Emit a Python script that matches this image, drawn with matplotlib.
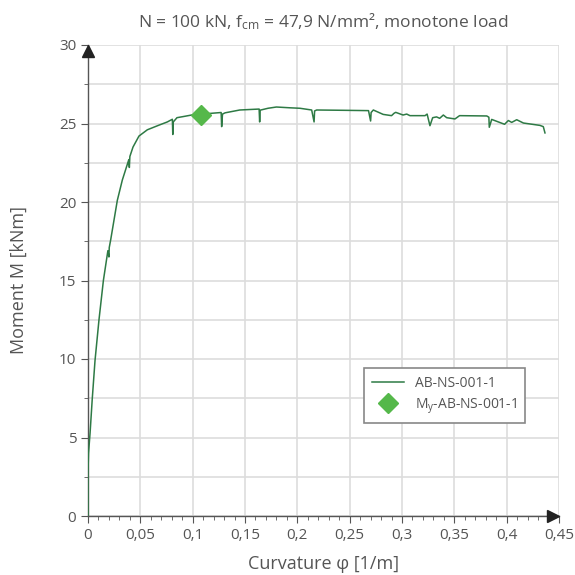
import matplotlib
matplotlib.use("Agg")
import matplotlib.pyplot as plt
import matplotlib.transforms as mtransforms
from matplotlib.ticker import MultipleLocator, FuncFormatter

# ---- data ----
curvature = [0, 0, 0.0005, 0.002, 0.004, 0.0067, 0.0105, 0.0147, 0.019, 0.0200, 0.0203,
             0.0217, 0.028, 0.0328, 0.039, 0.0395, 0.040, 0.043, 0.0487, 0.0567, 0.068,
             0.0758, 0.0806, 0.0810, 0.0815, 0.085, 0.0917, 0.099, 0.108, 0.118, 0.1272,
             0.1277, 0.1285, 0.131, 0.145, 0.1635, 0.164, 0.1645, 0.172, 0.180, 0.193,
             0.2025, 0.2137, 0.2160, 0.2165, 0.2185, 0.245, 0.268, 0.2700, 0.2705, 0.2726,
             0.282, 0.290, 0.2924, 0.294, 0.301, 0.3045, 0.3076, 0.322, 0.324, 0.3267,
             0.3293, 0.333, 0.336, 0.3395, 0.3427, 0.3506, 0.355, 0.381, 0.3830, 0.3834,
             0.3857, 0.398, 0.4016, 0.4048, 0.4096, 0.416, 0.4318, 0.435, 0.4366]
moment = [0, 2.8, 4.0, 5.3, 7.4, 9.9, 12.5, 15.0, 16.9, 16.5, 17.1,
          17.6, 20.1, 21.4, 22.7, 22.2, 22.9, 23.5, 24.2, 24.6, 24.9,
          25.1, 25.27, 24.3, 25.1, 25.37, 25.45, 25.54, 25.6, 25.65, 25.7,
          24.8, 25.6, 25.68, 25.86, 25.92, 25.1, 25.85, 25.97, 26.05, 26.0,
          25.97, 25.86, 25.1, 25.8, 25.86, 25.84, 25.82, 25.16, 25.7, 25.86,
          25.58, 25.5, 25.65, 25.71, 25.54, 25.6, 25.5, 25.5, 25.6, 24.86,
          25.37, 25.42, 25.33, 25.54, 25.37, 25.29, 25.5, 25.48, 25.4, 24.76,
          25.26, 24.95, 25.19, 25.07, 25.24, 25.03, 24.88, 24.8, 24.4]
yield_curvature = [0.108]
yield_moment = [25.55]

title = "N = 100 kN, f$_{\\mathregular{cm}}$ = 47,9 N/mm², monotone load"
xlabel = "Curvature φ [1/m]"
ylabel = "Moment M [kNm]"
series_label = "AB-NS-001-1"
yield_label = "M$_{\\mathregular{y}}$-AB-NS-001-1"

# ---- style ----
plt.rcParams['font.family'] = ['Open Sans', 'DejaVu Sans']
plt.rcParams['mathtext.fontset'] = 'custom'
plt.rcParams['mathtext.rm'] = 'Open Sans'
plt.rcParams['mathtext.it'] = 'Open Sans'
text_col = '#555555'
axis_col = '#555555'
grid_col = '#dddddd'

fig = plt.figure(figsize=(5.75, 5.75), dpi=100)
ax = fig.add_axes([88/575, 1 - 516/575, 471/575, 471/575])

ax.plot(curvature, moment, color='#2e7a45', lw=1.1, label=series_label, zorder=3)
ax.plot(yield_curvature, yield_moment, linestyle='none', marker='D', ms=10,
        color='#55b84a', label=yield_label, zorder=4)

ax.set_xlim(0, 0.45)
ax.set_ylim(0, 30)
ax.xaxis.set_major_locator(MultipleLocator(0.05))
ax.xaxis.set_minor_locator(MultipleLocator(0.01))
ax.yaxis.set_major_locator(MultipleLocator(5))
ax.yaxis.set_minor_locator(MultipleLocator(2.5))

def fmt(v, pos):
    s = f"{v:.2f}".rstrip('0').rstrip('.')
    return s.replace('.', ',')
ax.xaxis.set_major_formatter(FuncFormatter(fmt))
ax.yaxis.set_major_formatter(FuncFormatter(lambda v, p: f"{v:.0f}"))

ax.grid(True, which='major', axis='x', color=grid_col, lw=1.2)
ax.grid(True, which='both', axis='y', color=grid_col, lw=1.2)
ax.set_axisbelow(True)

for s in ['top', 'right']:
    ax.spines[s].set_visible(False)
for s in ['left', 'bottom']:
    ax.spines[s].set_color(axis_col)
    ax.spines[s].set_linewidth(1.0)

ax.tick_params(which='major', length=5, color=axis_col, labelcolor=text_col, labelsize=11)
ax.tick_params(which='minor', length=3, color=axis_col)

# arrowheads (tips at axis ends)
off_x = mtransforms.ScaledTranslation(-6/100, 0, fig.dpi_scale_trans)
off_y = mtransforms.ScaledTranslation(0, -6/100, fig.dpi_scale_trans)
ax.plot(1, 0, '>', color='#222222', ms=8.5, transform=ax.transAxes + off_x,
        clip_on=False, zorder=5)
ax.plot(0, 1, '^', color='#222222', ms=8.5, transform=ax.transAxes + off_y,
        clip_on=False, zorder=5)

ax.set_xlabel(xlabel, color=text_col, fontsize=13, labelpad=9)
ax.set_ylabel(ylabel, color=text_col, fontsize=13)
ax.yaxis.set_label_coords(-0.127, 0.5)
ax.set_title(title, color=text_col, fontsize=12.5, pad=13)

leg = ax.legend(loc='lower left', bbox_to_anchor=(0.586, 0.197), borderaxespad=0,
                fancybox=False, framealpha=1, edgecolor='#888888', fontsize=10,
                handlelength=2.3, borderpad=0.55, labelspacing=0.35, handletextpad=0.8)
leg.get_frame().set_linewidth(1.2)
for t in leg.get_texts():
    t.set_color(text_col)

fig.savefig('out.png', dpi=100)
